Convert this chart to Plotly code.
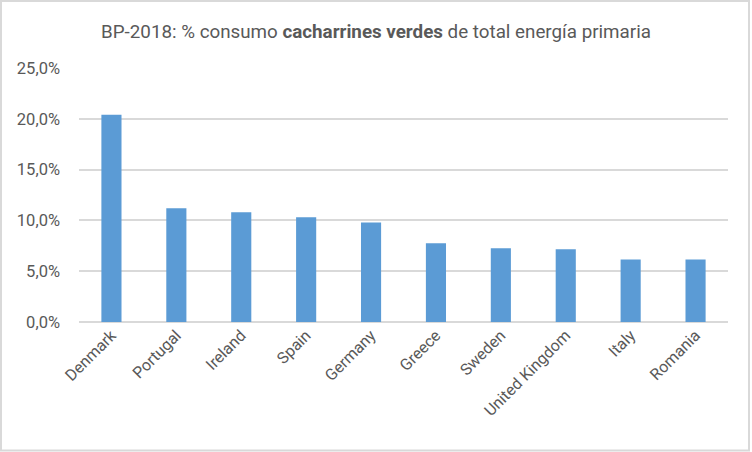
import plotly.graph_objects as go

countries = ["Denmark", "Portugal", "Ireland", "Spain", "Germany", "Greece",
             "Sweden", "United Kingdom", "Italy", "Romania"]
share = [0.204, 0.112, 0.108, 0.103, 0.098, 0.0775, 0.0725, 0.0715, 0.0615, 0.0615]
y_ticks = [0, 0.05, 0.10, 0.15, 0.20, 0.25]

font_family = "Roboto, Open Sans, sans-serif"
grey = "#595959"

fig = go.Figure(go.Bar(x=countries, y=share, marker_color="#5b9bd5",
                       marker_line_width=0))

fig.update_layout(
    width=752, height=452,
    paper_bgcolor="white", plot_bgcolor="white",
    margin=dict(l=79, r=24, t=68, b=130),
    separators=",.",
    bargap=0.69,
    showlegend=False,
    font=dict(family=font_family, color=grey, size=16),
    title=dict(
        text="BP-2018: % consumo <b>cacharrines verdes</b> de total energía primaria",
        x=0.5, xref="container", xanchor="center",
        y=1 - 31 / 452, yref="container", yanchor="middle",
        font=dict(family=font_family, size=18.8, color=grey),
    ),
    xaxis=dict(tickangle=-45, showgrid=False, showline=False, ticks="",
               tickfont=dict(size=16, color=grey)),
    yaxis=dict(range=[0, 0.25], tickvals=y_ticks, tickformat=".1%",
               showgrid=True, gridcolor="#d9d9d9", gridwidth=2,
               zeroline=True, zerolinecolor="#d9d9d9", zerolinewidth=2,
               showline=False, ticks="", ticklabelstandoff=18,
               tickfont=dict(size=16.5, color=grey)),
    shapes=[dict(type="rect", xref="paper", yref="paper",
                 x0=(1 - 79) / 649, x1=(749 - 79) / 649,
                 y0=(322 - 450.5) / 254, y1=(322 - 1) / 254,
                 line=dict(color="#d9d9d9", width=2), layer="below")],
)

fig.write_html("out.html",
               config={"displayModeBar": False},
               post_script="document.body.style.margin='0';document.body.style.padding='0';")
